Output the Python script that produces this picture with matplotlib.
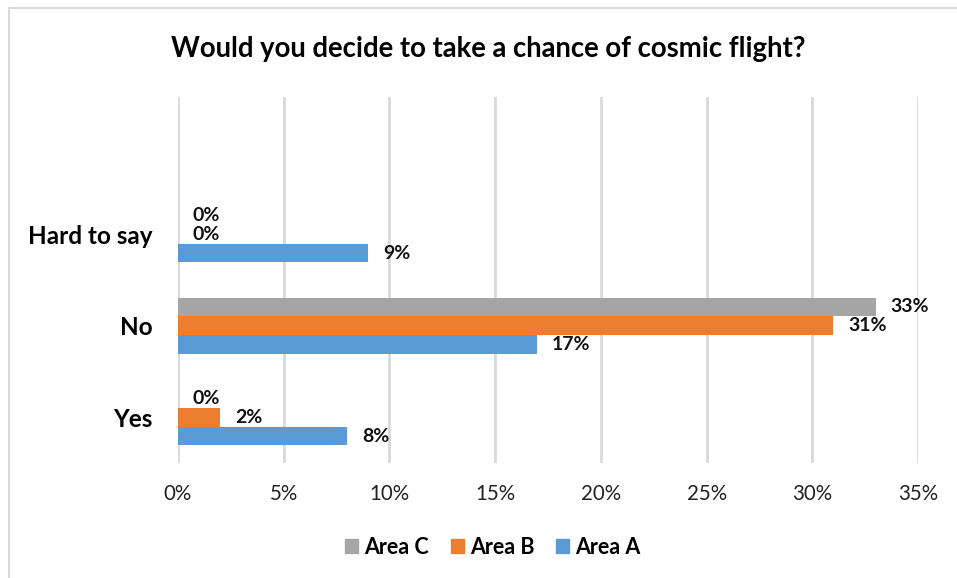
import numpy as np
import matplotlib.pyplot as plt
from matplotlib.lines import Line2D
from matplotlib.patches import Patch

plt.rcParams['font.family'] = ['Lato', 'DejaVu Sans']

# --- data ---
categories = ["Yes", "No", "Hard to say"]
area_a = [8, 17, 9]
area_b = [2, 31, 0]
area_c = [0, 33, 0]
series_names = ["Area A", "Area B", "Area C"]
series_colors = ["#5B9BD5", "#ED7D31", "#A5A5A5"]
x_ticks = [0, 5, 10, 15, 20, 25, 30, 35]

W, H = 957, 578
fig = plt.figure(figsize=(W / 100, H / 100), dpi=100)
ax = fig.add_axes([178 / W, 1 - 463 / H, 740 / W, 366 / H])

y = np.arange(len(categories))
bar_h = 0.205
offsets = [-bar_h, 0, bar_h]

for vals, name, color, off in zip([area_a, area_b, area_c], series_names, series_colors, offsets):
    ax.barh(y + off, vals, height=bar_h, color=color, label=name, zorder=3)
    for yi, v in zip(y, vals):
        ax.text(v + 0.7, yi + off, f"{v}%", ha="left", va="center",
                fontsize=14, fontweight="bold", color="#111111", zorder=4)

ax.set_xlim(0, 35)
ax.set_ylim(-0.5, 3.5)
ax.set_xticks(x_ticks)
ax.set_xticklabels([f"{t}%" for t in x_ticks], fontsize=14.8, color="#222222")
ax.set_yticks(y)
ax.set_yticklabels(categories, fontsize=17.5, fontweight="bold")
ax.tick_params(axis="both", length=0)
ax.tick_params(axis="x", pad=15)
ax.tick_params(axis="y", pad=18)
ax.grid(axis="x", color="#D9D9D9", linewidth=2, zorder=0)
for s in ax.spines.values():
    s.set_visible(False)

fig.suptitle("Would you decide to take a chance of cosmic flight?",
             x=0.51, y=1 - 49 / H, va="center", fontsize=19.8, fontweight="bold")

# legend in Area C, Area B, Area A order
handles = [Patch(color=c) for c in series_colors[::-1]]
fig.legend(handles, series_names[::-1], loc="center", bbox_to_anchor=(493 / W, 1 - 547 / H),
           ncol=3, frameon=False, handlelength=0.6, handleheight=0.6, handletextpad=0.3,
           columnspacing=1.0, prop={"size": 15.5, "weight": "bold"})

# outer chart border (left and top edges)
fig.add_artist(Line2D([9 / W, 9 / W], [0, 1 - 8 / H], color="#D9D9D9", linewidth=1.5))
fig.add_artist(Line2D([9 / W, 1], [1 - 8 / H, 1 - 8 / H], color="#D9D9D9", linewidth=1.5))

fig.savefig("out.png", dpi=100)
